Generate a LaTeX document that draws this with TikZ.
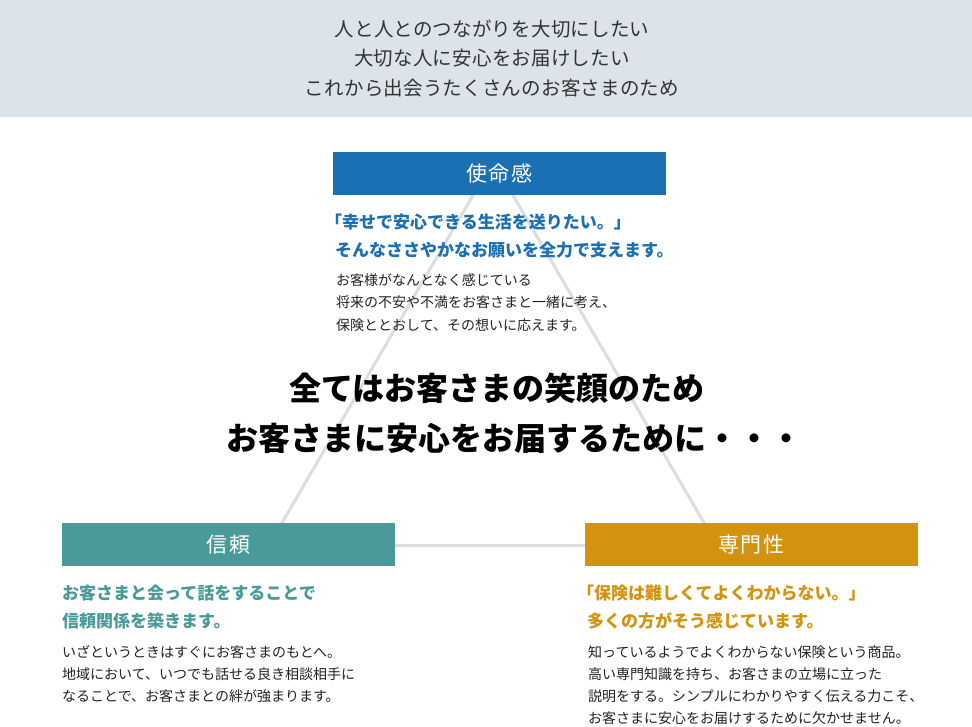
\documentclass[tikz,border=0pt]{standalone}
\usepackage{fontspec}
\setmainfont{Noto Sans CJK JP}
\definecolor{banner}{HTML}{DCE3EA}
\definecolor{mblue}{HTML}{1B6FB3}
\definecolor{mteal}{HTML}{4A9A9A}
\definecolor{mgold}{HTML}{D3930F}
\definecolor{tline}{HTML}{DDDDDD}
\definecolor{bodytxt}{HTML}{222222}
\definecolor{bantxt}{HTML}{333333}
\tikzset{
  titlebox/.style={minimum width=333pt, minimum height=43pt, inner sep=0pt, text=white,
    font=\fontsize{21}{21}\selectfont\addfontfeature{LetterSpace=8}},
  bantext/.style={inner sep=0pt, text=bantxt, font=\fontsize{19.5}{19.5}\selectfont\addfontfeature{LetterSpace=1}},
  leadtext/.style={inner sep=0pt, anchor=west, font=\fontsize{17}{17}\selectfont\bfseries},
  bodytext/.style={inner sep=0pt, anchor=west, text=bodytxt, font=\fontsize{14}{14}\selectfont},
  bigtext/.style={inner sep=0pt, anchor=west, text=black, font=\fontsize{32}{32}\selectfont\bfseries},
  triline/.style={draw=tline, line width=3pt}
}
\begin{document}
\begin{tikzpicture}[x=1pt,y=-1pt]
\useasboundingbox (0,0) rectangle (972,727);
\fill[white] (0,0) rectangle (972,727);
\fill[banner] (0,0) rectangle (972,117);
% banner text
\node[bantext] (b1) at (492,29) {人と人とのつながりを大切にしたい};
\node[bantext] (b2) at (492,58) {大切な人に安心をお届けしたい};
\node[bantext] (b3) at (492,88) {これから出会うたくさんのお客さまのため};
% triangle
\coordinate (apex) at (493,161);
\coordinate (bl) at (269,545);
\coordinate (br) at (717,545);
\draw[triline] (apex) -- (bl);
\draw[triline] (apex) -- (br);
\draw[triline] (bl) -- (br);
% title boxes
\node[titlebox, fill=mblue] (mission) at (499.5,173.5) {使命感};
\node[titlebox, fill=mteal] (trust) at (228.5,544.5) {信頼};
\node[titlebox, fill=mgold] (expert) at (751.5,544.5) {専門性};
% mission texts
\node[leadtext, text=mblue] (m1) at (325,222) {「幸せで安心できる生活を送りたい。」};
\node[leadtext, text=mblue] (m2) at (335,250) {そんなささやかなお願いを全力で支えます。};
\node[bodytext] (m3) at (336,280) {お客様がなんとなく感じている};
\node[bodytext] (m4) at (336,302) {将来の不安や不満をお客さまと一緒に考え、};
\node[bodytext] (m5) at (336,325) {保険ととおして、その想いに応えます。};
% central message
\node[bigtext] (c1) at (289,388) {全てはお客さまの笑顔のため};
\node[bigtext] (c2) at (226,438) {お客さまに安心をお届するために・・・};
% trust texts
\node[leadtext, text=mteal] (t1) at (62,593) {お客さまと会って話をすることで};
\node[leadtext, text=mteal] (t2) at (62,621) {信頼関係を築きます。};
\node[bodytext] (t3) at (62,652) {いざというときはすぐにお客さまのもとへ。};
\node[bodytext] (t4) at (62,674) {地域において、いつでも話せる良き相談相手に};
\node[bodytext] (t5) at (62,696) {なることで、お客さまとの絆が強まります。};
% expertise texts
\node[leadtext, text=mgold] (e1) at (577,593) {「保険は難しくてよくわからない。」};
\node[leadtext, text=mgold] (e2) at (587,621) {多くの方がそう感じています。};
\node[bodytext] (e3) at (588,652) {知っているようでよくわからない保険という商品。};
\node[bodytext] (e4) at (588,674) {高い専門知識を持ち、お客さまの立場に立った};
\node[bodytext] (e5) at (588,696) {説明をする。シンプルにわかりやすく伝える力こそ、};
\node[bodytext] (e6) at (588,718) {お客さまに安心をお届けするために欠かせません。};
\end{tikzpicture}
\end{document}
